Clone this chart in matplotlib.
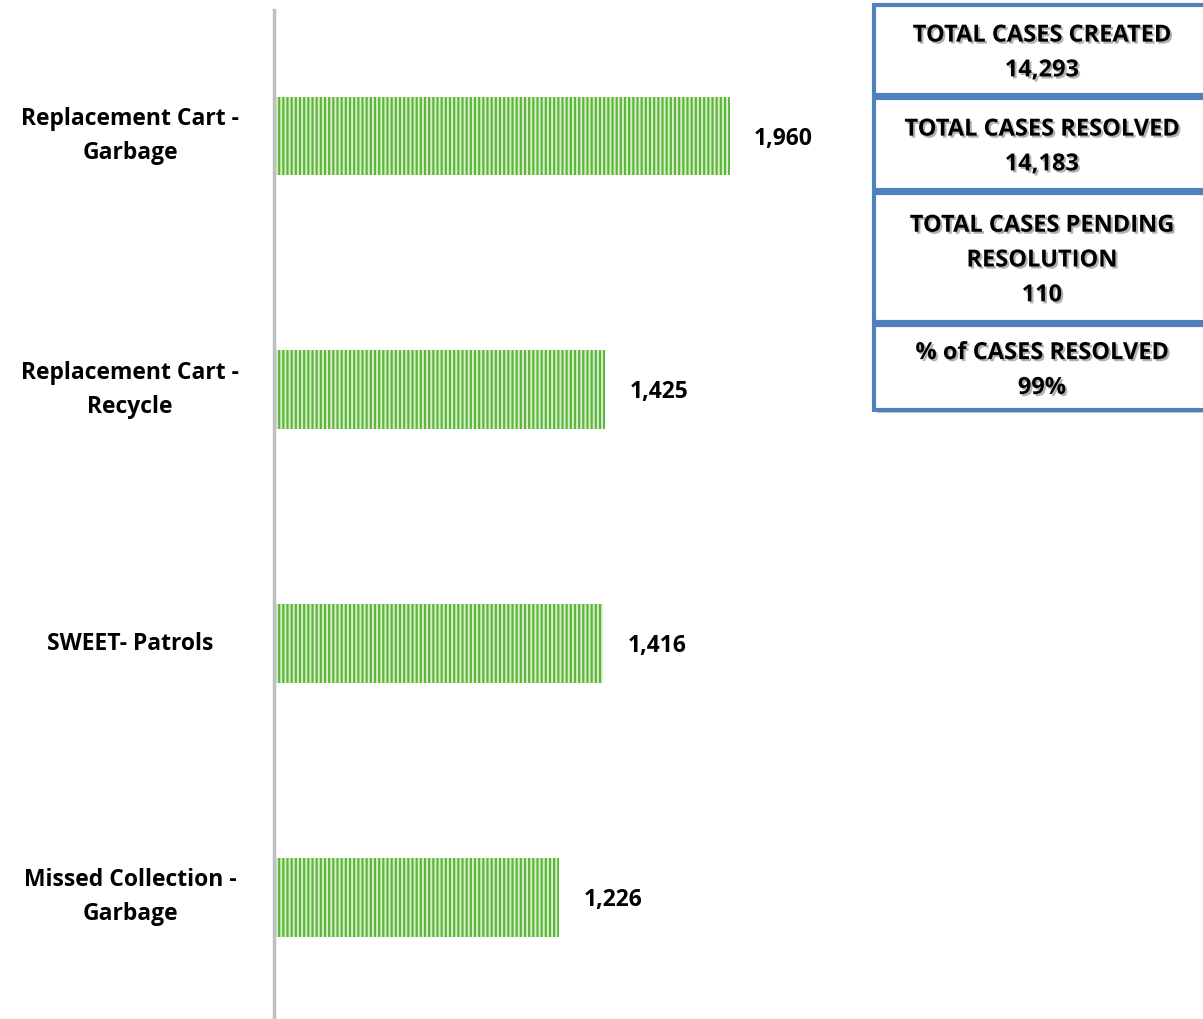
import matplotlib
matplotlib.use("Agg")
import matplotlib.pyplot as plt
import matplotlib.patheffects as pe
from matplotlib.patches import Rectangle
from matplotlib.transforms import blended_transform_factory

categories = ["Replacement Cart -\nGarbage", "Replacement Cart -\nRecycle", "SWEET- Patrols", "Missed Collection -\nGarbage"]
values = [1960, 1425, 1416, 1226]
value_labels = ["1,960", "1,425", "1,416", "1,226"]

box_texts = [
    "TOTAL CASES CREATED\n14,293",
    "TOTAL CASES RESOLVED\n14,183",
    "TOTAL CASES PENDING\nRESOLUTION\n110",
    "% of CASES RESOLVED\n99%",
]

plt.rcParams['font.family'] = ['Open Sans', 'DejaVu Sans']
plt.rcParams['hatch.linewidth'] = 1.4

W, H = 1203, 1019
fig = plt.figure(figsize=(W / 100, H / 100), dpi=100)

ax_left = 274 / W
ax = fig.add_axes([ax_left, 0, 1 - ax_left, 1 - 10 / H])
ax.set_xlim(0, (W - 274) / 0.2325)
ax.set_ylim(3.48, -0.497)

ypos = list(range(len(values)))
ax.barh(ypos, values, height=0.31, color='#5cb53c', edgecolor='#d8f0c8',
        linewidth=0, hatch='||||')

for y, v, lab in zip(ypos, values, value_labels):
    ax.text(v + 105, y + 0.01, lab, va='center', ha='left', fontsize=16.5,
            fontweight='bold', color='#000000')

trans = blended_transform_factory(fig.transFigure, ax.transData)
for y, cat in zip(ypos, categories):
    fig.text(130 / W, y, cat, transform=trans, ha='center', va='center',
             fontsize=16.5, fontweight='bold', linespacing=1.55)

ax.set_yticks([])
ax.set_xticks([])
for s in ['top', 'right', 'bottom']:
    ax.spines[s].set_visible(False)
ax.spines['left'].set_color('#bfbfbf')
ax.spines['left'].set_linewidth(2.5)

# Summary boxes (pixel coords from top)
boxes = [(5, 95), (98, 190), (193, 322), (325, 410)]
x0, x1 = 874, 1206
shadow = [pe.SimplePatchShadow(offset=(1.5, -1.5), alpha=0.3), pe.Normal()]
for (t, b), txt in zip(boxes, box_texts):
    rect = Rectangle((x0 / W, 1 - b / H), (x1 - x0) / W, (b - t) / H,
                     transform=fig.transFigure, facecolor='white',
                     edgecolor='#4f81bd', linewidth=3, clip_on=False,
                     path_effects=[pe.withSimplePatchShadow(offset=(2, -2), alpha=0.3)])
    fig.add_artist(rect)
    fig.text(1042 / W, 1 - ((t + b) / 2 + 3) / H, txt, ha='center', va='center',
             fontsize=17, fontweight='bold', linespacing=1.6,
             path_effects=shadow)

fig.savefig("out.png", dpi=100)
